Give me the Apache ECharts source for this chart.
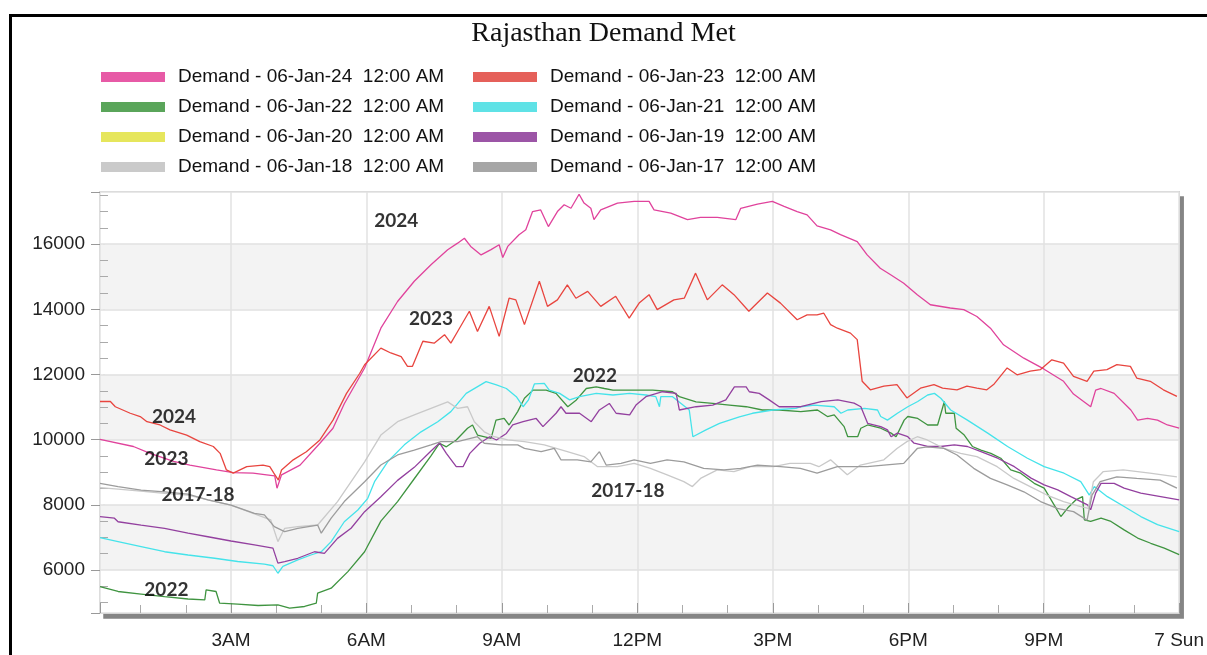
<!DOCTYPE html>
<html>
<head>
<meta charset="utf-8">
<script src="https://cdn.jsdelivr.net/npm/echarts@6/dist/echarts.min.js"></script>
<style>html,body{margin:0;padding:0;background:#fff;}#c{width:1207px;height:655px;}</style>
</head>
<body>
<div id="c"></div>
<script>
// ---- DATA (hour of day, demand MW) ----
const seriesNames = [
  'Demand - 06-Jan-24  12:00 AM', 'Demand - 06-Jan-23  12:00 AM',
  'Demand - 06-Jan-22  12:00 AM', 'Demand - 06-Jan-21  12:00 AM',
  'Demand - 06-Jan-20  12:00 AM', 'Demand - 06-Jan-19  12:00 AM',
  'Demand - 06-Jan-18  12:00 AM', 'Demand - 06-Jan-17  12:00 AM'
];
const seriesColors = ['#e0439c', '#e8453f', '#3f9440', '#45e3ea', '#e6e65c', '#93409f', '#c9c9c9', '#9c9c9c'];
const legendSwatch = ['#e75aa6', '#e5605a', '#5aa55a', '#5fe2e6', '#e6e65c', '#9c55a6', '#cacaca', '#a6a6a6'];

const d2024 = [[0.1,10010],[0.84,9790],[1.21,9580],[1.73,9330],[2.09,9220],[2.68,9070],[3.05,8990],[3.49,8970],[3.79,8920],[3.97,8890],[4.02,8510],[4.12,8920],[4.53,9220],[4.97,9890],[5.26,10350],[5.51,11100],[5.96,12200],[6.32,13420],[6.69,14240],[7.06,14860],[7.43,15370],[7.8,15830],[8.02,16030],[8.17,16180],[8.31,15930],[8.54,15670],[8.76,15830],[8.94,15980],[9.02,15590],[9.13,15930],[9.38,16290],[9.53,16440],[9.68,17000],[9.86,17050],[10.03,16540],[10.23,17000],[10.38,17210],[10.53,17100],[10.71,17530],[10.82,17260],[10.97,17100],[11.04,16750],[11.19,17050],[11.56,17260],[11.93,17310],[12.26,17310],[12.37,17050],[12.74,16950],[13.11,16750],[13.4,16820],[13.77,16820],[14.18,16750],[14.29,17100],[14.66,17230],[14.99,17310],[15.25,17160],[15.54,17000],[15.76,16900],[15.98,16560],[16.28,16440],[16.5,16290],[16.87,16080],[17.09,15670],[17.38,15260],[17.61,15060],[17.9,14800],[18.2,14450],[18.49,14140],[18.93,14040],[19.23,13990],[19.52,13780],[19.82,13420],[20.11,12910],[20.56,12500],[21.0,12170],[21.44,11790],[21.66,11400],[22.04,11010],[22.15,11520],[22.27,11570],[22.56,11420],[22.93,10910],[23.08,10600],[23.3,10650],[23.52,10600],[23.74,10450],[24.0,10350]];
const d2023 = [[0.1,11170],[0.33,11170],[0.44,11010],[0.77,10810],[0.99,10710],[1.14,10550],[1.43,10450],[1.65,10300],[2.02,10140],[2.31,9940],[2.61,9790],[2.76,9580],[2.9,9070],[3.05,8970],[3.2,9070],[3.35,9170],[3.71,9220],[3.86,9170],[3.95,8970],[4.05,8760],[4.12,9070],[4.38,9380],[4.67,9630],[4.97,9990],[5.26,10600],[5.56,11420],[5.85,12030],[5.96,12300],[6.32,12810],[6.54,12660],[6.77,12550],[6.91,12250],[7.02,12250],[7.25,13020],[7.5,12960],[7.73,13220],[7.87,12960],[8.02,13320],[8.28,13940],[8.46,13320],[8.72,14090],[8.94,13170],[9.16,14340],[9.31,14290],[9.5,13530],[9.83,14860],[10.01,14090],[10.23,14290],[10.45,14750],[10.64,14340],[10.9,14550],[11.19,14090],[11.52,14400],[11.82,13730],[12.04,14190],[12.26,14450],[12.44,13990],[12.81,14290],[13.04,14340],[13.29,15110],[13.55,14290],[13.88,14750],[14.14,14450],[14.47,13940],[14.88,14500],[15.17,14190],[15.54,13680],[15.76,13830],[15.98,13830],[16.13,13880],[16.28,13530],[16.43,13420],[16.72,13270],[16.87,13070],[16.98,11790],[17.16,11530],[17.46,11640],[17.75,11690],[17.97,11280],[18.27,11580],[18.57,11690],[18.76,11580],[19.08,11530],[19.3,11640],[19.52,11580],[19.74,11530],[19.89,11690],[20.19,12200],[20.41,11990],[20.7,12100],[20.93,12150],[21.18,12450],[21.44,12350],[21.66,11940],[21.96,11790],[22.11,12100],[22.4,12150],[22.62,12300],[22.92,12250],[23.06,11890],[23.36,11790],[23.65,11530],[23.95,11330]];
const d2022 = [[0.1,5490],[0.5,5340],[1.01,5260],[1.53,5180],[2.05,5110],[2.42,5080],[2.45,5390],[2.67,5340],[2.75,4980],[3.15,4950],[3.6,4910],[4.04,4930],[4.3,4830],[4.63,4880],[4.89,4980],[4.92,5290],[5.22,5440],[5.59,5950],[5.96,6560],[6.32,7500],[6.69,8100],[7.06,8800],[7.43,9500],[7.62,9890],[7.77,9780],[7.99,9990],[8.24,10350],[8.35,10450],[8.46,10140],[8.76,10040],[8.87,10600],[9.05,10650],[9.16,10450],[9.35,10860],[9.5,11270],[9.69,11520],[9.98,11520],[10.2,11420],[10.46,11010],[10.65,11220],[10.87,11570],[11.09,11620],[11.27,11570],[11.46,11520],[11.97,11520],[12.34,11520],[12.78,11470],[12.93,11320],[13.3,11160],[13.67,11110],[14.04,11060],[14.41,11010],[14.77,10910],[15.14,10910],[15.62,10860],[15.99,10910],[16.21,10710],[16.36,10760],[16.58,10400],[16.66,10090],[16.88,10090],[16.95,10350],[17.1,10450],[17.39,10350],[17.62,10200],[17.73,10090],[17.91,10600],[17.99,10710],[18.21,10650],[18.43,10450],[18.65,10450],[18.8,11170],[18.83,10810],[19.02,10810],[19.06,10350],[19.24,10140],[19.42,9790],[19.61,9680],[19.83,9580],[20.05,9430],[20.27,9070],[20.49,8970],[20.79,8660],[21.01,8510],[21.23,8000],[21.38,7640],[21.53,7900],[21.71,8150],[21.86,8250],[21.9,7540],[22.04,7490],[22.27,7590],[22.49,7490],[22.78,7230],[23.08,6980],[23.37,6820],[23.67,6670],[24.0,6470]];
const d2021 = [[0.1,6990],[0.5,6870],[1.01,6720],[1.53,6560],[2.05,6460],[2.64,6360],[3.15,6260],[3.74,6180],[3.93,6130],[4.04,5900],[4.15,6110],[4.48,6310],[4.77,6460],[5.0,6560],[5.22,6870],[5.51,7480],[5.81,7840],[6.03,8200],[6.18,8710],[6.47,9320],[6.84,9840],[7.21,10240],[7.58,10550],[7.87,10860],[8.21,11420],[8.65,11780],[8.88,11680],[9.1,11570],[9.32,11320],[9.47,11010],[9.59,11220],[9.72,11710],[9.94,11730],[10.05,11520],[10.28,11420],[10.5,11220],[10.72,11320],[11.09,11420],[11.46,11370],[11.83,11420],[12.19,11370],[12.41,11320],[12.49,11010],[12.52,11320],[12.78,11320],[13.15,10910],[13.23,10090],[13.52,10300],[13.82,10500],[14.26,10700],[14.55,10810],[15.0,10910],[15.51,10960],[15.62,11010],[15.92,11060],[16.36,11010],[16.51,10810],[16.66,10910],[17.03,10960],[17.32,10910],[17.39,10710],[17.54,10600],[17.76,10810],[17.99,11010],[18.21,11170],[18.43,11370],[18.58,11420],[18.72,11270],[18.94,10910],[19.31,10600],[19.76,10200],[20.2,9790],[20.64,9430],[21.01,9170],[21.45,8970],[21.82,8710],[22.01,8300],[22.12,8560],[22.41,8250],[22.78,7950],[23.15,7640],[23.52,7390],[24.0,7180]];
const d2020 = [];
const d2019 = [[0.1,7640],[0.42,7590],[0.5,7480],[1.01,7380],[1.53,7280],[2.05,7130],[2.49,7020],[3.0,6890],[3.52,6770],[3.93,6670],[4.04,6210],[4.19,6260],[4.48,6360],[4.85,6560],[5.07,6510],[5.36,6970],[5.66,7280],[5.96,7790],[6.32,8250],[6.69,8750],[7.06,9150],[7.43,9650],[7.62,9900],[7.77,9580],[7.99,9170],[8.14,9170],[8.29,9580],[8.51,9890],[8.73,10090],[8.88,9990],[9.1,10190],[9.24,10450],[9.47,10550],[9.76,10650],[9.91,10400],[10.2,10810],[10.31,11010],[10.42,10810],[10.72,10810],[10.98,10550],[11.16,10910],[11.38,11110],[11.53,10810],[11.83,10760],[11.97,11060],[12.19,11320],[12.56,11470],[12.86,11420],[12.93,10910],[13.3,11010],[13.67,11060],[13.96,11220],[14.15,11620],[14.41,11620],[14.48,11470],[14.7,11420],[14.92,11220],[15.14,11010],[15.62,11010],[16.07,11170],[16.44,11220],[16.8,11120],[16.95,11010],[17.1,10500],[17.39,10400],[17.54,10300],[17.62,10090],[17.76,10200],[17.99,10090],[18.13,9890],[18.43,9790],[18.72,9790],[19.02,9840],[19.31,9790],[19.61,9630],[19.98,9430],[20.35,9170],[20.72,8820],[21.01,8610],[21.31,8460],[21.6,8250],[21.97,8000],[22.04,7850],[22.15,8360],[22.27,8660],[22.56,8660],[22.78,8510],[23.15,8360],[23.59,8250],[24.0,8150]];
const d2018 = [[0.1,8530],[0.5,8480],[1.0,8420],[1.53,8350],[2.05,8300],[2.49,8150],[3.0,7990],[3.88,7540],[4.04,6870],[4.19,7280],[4.48,7330],[4.92,7380],[5.36,8100],[5.96,9320],[6.32,10140],[6.69,10550],[7.06,10760],[7.43,10960],[7.8,11160],[8.02,10960],[8.24,11010],[8.39,10550],[8.61,10240],[8.83,10090],[9.13,9990],[9.5,9940],[9.94,9840],[10.45,9630],[10.82,9480],[11.12,9170],[11.56,9170],[11.93,9270],[12.29,9120],[12.66,8920],[13.03,8710],[13.22,8560],[13.4,8810],[13.77,9070],[14.14,9020],[14.5,9170],[15.02,9170],[15.38,9270],[15.83,9270],[16.02,9170],[16.28,9380],[16.65,8920],[16.94,9220],[17.46,9380],[17.75,9730],[17.97,9940],[18.2,10090],[18.42,9990],[18.79,9730],[19.16,9580],[19.52,9480],[19.97,9170],[20.34,8810],[20.7,8560],[21.07,8300],[21.44,8100],[21.8,7950],[21.99,7890],[22.1,8710],[22.32,9020],[22.76,9070],[23.35,8970],[23.95,8860]];
const d2017 = [[0.1,8660],[0.5,8560],[1.01,8450],[1.53,8400],[2.05,8330],[2.49,8150],[3.0,7990],[3.52,7740],[3.74,7690],[3.96,7330],[4.19,7180],[4.48,7280],[4.92,7380],[5.0,7130],[5.22,7590],[5.51,8100],[5.96,8710],[6.32,9220],[6.69,9530],[7.06,9680],[7.43,9840],[7.65,9940],[8.02,9940],[8.46,10090],[8.61,9890],[8.98,9840],[9.35,9840],[9.5,9730],[9.87,9630],[10.16,9730],[10.31,9380],[10.67,9380],[10.97,9320],[11.16,9630],[11.31,9220],[11.64,9270],[11.93,9380],[12.29,9270],[12.66,9380],[13.03,9320],[13.47,9120],[13.92,9070],[14.29,9120],[14.66,9220],[15.17,9170],[15.61,9120],[15.98,8970],[16.43,9170],[16.72,9170],[17.09,9170],[17.46,9220],[17.9,9270],[18.2,9730],[18.42,9780],[18.79,9730],[19.08,9530],[19.45,9120],[19.82,8810],[20.19,8610],[20.56,8400],[20.93,8100],[21.3,7890],[21.66,7790],[21.96,7530],[22.07,8300],[22.25,8710],[22.62,8860],[23.06,8810],[23.58,8760],[23.95,8510]];
const seriesData = [d2024, d2023, d2022, d2021, d2020, d2019, d2018, d2017];

// annotation labels placed in data coordinates
const annotations = [
  {name: '2024', value: [6.66, 16700]},
  {name: '2023', value: [7.43, 13710]},
  {name: '2022', value: [11.06, 11970]},
  {name: '2017-18', value: [11.79, 8430]},
  {name: '2024', value: [1.74, 10700]},
  {name: '2023', value: [1.57, 9400]},
  {name: '2017-18', value: [2.27, 8300]},
  {name: '2022', value: [1.57, 5390]}
];

// axis ticks
const xTickLabels = {3: '3AM', 6: '6AM', 9: '9AM', 12: '12PM', 15: '3PM', 18: '6PM', 21: '9PM', 24: '7 Sun'};
const xMinorTicks = [1,2,4,5,7,8,10,11,13,14,16,17,19,20,22,23];
const yMinorTicks = [5000,5500,6500,7000,7500,8500,9000,9500,10500,11000,11500,12500,13000,13500,14500,15000,15500,16500,17000,17500];
const xMin = 0.1, xMax = 24, yMin = 4680, yMax = 17600;

const chart = echarts.init(document.getElementById('c'), null, {renderer: 'canvas'});
const font = 'Liberation Sans, Arial, sans-serif';

const lineSeries = seriesNames.map((n, i) => ({
  name: n, type: 'line', data: seriesData[i], showSymbol: false, symbol: 'none',
  color: legendSwatch[i],
  lineStyle: {color: seriesColors[i], width: 1.3},
  silent: true, z: 3
}));

const legendCommon = {
  orient: 'vertical', top: 67, padding: 0, itemGap: 10, itemWidth: 64, itemHeight: 10,
  icon: 'rect', selectedMode: false,
  textStyle: {fontFamily: font, fontSize: 19, color: '#111', lineHeight: 20, padding: [0, 0, 0, 8]}
};

chart.setOption({
  animation: false,
  backgroundColor: '#ffffff',
  graphic: [
    {type: 'rect', left: 8, top: 13, shape: {width: 1220, height: 660}, style: {fill: 'none', stroke: '#000', lineWidth: 3}, silent: true},
    {type: 'text', left: 'center', top: 20, style: {text: 'Rajasthan Demand Met', fontFamily: 'Liberation Serif, Times New Roman, serif', fontSize: 28, fill: '#111'}, silent: true}
  ],
  legend: [
    Object.assign({}, legendCommon, {left: 101, data: [seriesNames[0], seriesNames[2], seriesNames[4], seriesNames[6]]}),
    Object.assign({}, legendCommon, {left: 473, data: [seriesNames[1], seriesNames[3], seriesNames[5], seriesNames[7]]})
  ],
  grid: {
    left: 100, right: 27, top: 192, bottom: 42, show: true,
    backgroundColor: '#ffffff', borderColor: '#bdbdbd', borderWidth: 1.5,
    shadowColor: '#858585', shadowOffsetX: 4, shadowOffsetY: 5, shadowBlur: 0
  },
  xAxis: [
    {
      type: 'value', min: xMin, max: xMax, splitNumber: 8,
      axisLine: {show: false},
      axisTick: {show: true, inside: true, length: 10, lineStyle: {color: '#999'}},
      axisLabel: {
        margin: 18, fontFamily: font, fontSize: 19, color: '#222',
        formatter: v => xTickLabels[Math.round(v * 100) / 100] || ''
      },
      splitLine: {show: true, lineStyle: {color: '#e2e2e2', width: 1.5}}
    },
    {
      type: 'value', min: xMin, max: xMax, position: 'bottom', offset: 0,
      axisLine: {show: false}, axisLabel: {show: false}, splitLine: {show: false},
      axisTick: {show: true, inside: true, length: 8, customValues: xMinorTicks, lineStyle: {color: '#aaa'}}
    }
  ],
  yAxis: [
    {
      type: 'value', min: yMin, max: yMax, splitNumber: 6,
      axisLine: {show: false},
      axisTick: {show: true, inside: false, length: 9, lineStyle: {color: '#999'}},
      axisLabel: {
        margin: 15, fontFamily: font, fontSize: 19, color: '#222',
        formatter: v => (v % 2000 === 0 ? String(v) : '')
      },
      splitLine: {show: true, lineStyle: {color: '#e0e0e0', width: 1.5}},
      splitArea: {show: true, areaStyle: {color: ['#ffffff', '#f3f3f3']}}
    },
    {
      type: 'value', min: yMin, max: yMax, position: 'left', offset: 0,
      axisLine: {show: false}, axisLabel: {show: false}, splitLine: {show: false},
      axisTick: {show: true, inside: true, length: 8, customValues: yMinorTicks, lineStyle: {color: '#aaa'}}
    }
  ],
  series: lineSeries.concat([{
    type: 'scatter', name: 'labels', data: annotations, symbolSize: 1,
    itemStyle: {color: 'rgba(0,0,0,0)'}, silent: true, z: 10,
    label: {show: true, position: 'inside', formatter: '{b}', fontFamily: 'Lato, sans-serif', fontWeight: 'bold', fontSize: 19, color: '#000'}
  }])
});
</script>
</body>
</html>
